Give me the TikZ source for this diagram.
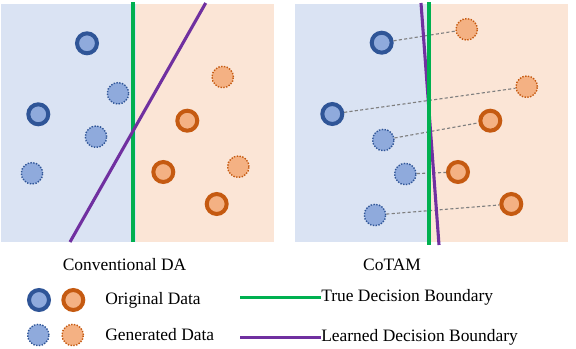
\documentclass[tikz,border=0pt]{standalone}
\usepackage{fontspec}
\setmainfont{Liberation Serif}
\usetikzlibrary{positioning}
\definecolor{PanelBlue}{HTML}{DAE3F3}
\definecolor{PanelOrange}{HTML}{FBE5D6}
\definecolor{DotBlue}{HTML}{8FAADC}
\definecolor{RingBlue}{HTML}{2F5597}
\definecolor{DotOrange}{HTML}{F4B183}
\definecolor{RingOrange}{HTML}{C55A11}
\definecolor{TrueGreen}{HTML}{00B050}
\definecolor{LearnPurple}{HTML}{7030A0}
\definecolor{LinkGray}{HTML}{7F7F7F}
\tikzset{
  origblue/.style={circle, inner sep=0pt, minimum size=14.2pt, line width=2.85pt, draw=RingBlue, fill=DotBlue},
  origorange/.style={origblue, draw=RingOrange, fill=DotOrange},
  genblue/.style={circle, inner sep=0pt, minimum size=15.2pt, line width=1pt, dash pattern=on 1pt off 1pt, draw=RingBlue, fill=DotBlue},
  genorange/.style={genblue, draw=RingOrange, fill=DotOrange},
  boundary/.style={line width=2.2pt},
  link/.style={LinkGray, line width=0.8pt, dash pattern=on 2.2pt off 1.6pt},
}

\begin{document}
\begin{tikzpicture}[x=0.025cm, y=-0.025cm, font=\fontsize{12.4pt}{14pt}\selectfont]
  \useasboundingbox (0,0) rectangle (576,348);
  % conventional DA
  \fill[PanelBlue] (1,4) rectangle (136,242);
  \fill[PanelOrange] (136,4) rectangle (274,242);
  \foreach \x/\y [count=\i] in {87/43.3, 38.3/114.3}
    \node[origblue] (cbo\i) at (\x,\y) {};
  \foreach \x/\y [count=\i] in {118/93.3, 96/136.7, 32/173.3}
    \node[genblue] (cbg\i) at (\x,\y) {};
  \foreach \x/\y [count=\i] in {187.3/120.7, 163.3/172, 216.7/204}
    \node[origorange] (coo\i) at (\x,\y) {};
  \foreach \x/\y [count=\i] in {222.7/77, 238.3/166.7}
    \node[genorange] (cog\i) at (\x,\y) {};
  \draw[boundary, TrueGreen] (133,2.5) -- (133,242);
  \draw[boundary, LearnPurple] (205.7,3) -- (70,242);
  % CoTAM
  \fill[PanelBlue] (295,4) rectangle (428,242);
  \fill[PanelOrange] (428,4) rectangle (568,242);
  \foreach \x/\y [count=\i] in {381.7/42.7, 332.3/114}
    \node[origblue] (tbo\i) at (\x,\y) {};
  \foreach \x/\y [count=\i] in {383.3/140, 405.3/174, 375/215}
    \node[genblue] (tbg\i) at (\x,\y) {};
  \foreach \x/\y [count=\i] in {490.3/120.7, 458/172, 511.3/204}
    \node[origorange] (too\i) at (\x,\y) {};
  \foreach \x/\y [count=\i] in {466.7/29.3, 526.7/86.7}
    \node[genorange] (tog\i) at (\x,\y) {};
  % each sample moved across the boundary
  \draw[link] (tbo1) -- (tog1);
  \draw[link] (tbo2) -- (tog2);
  \draw[link] (tbg1) -- (too1);
  \draw[link] (tbg2) -- (too2);
  \draw[link] (tbg3) -- (too3);
  \draw[boundary, LearnPurple] (421,3) -- (439,245);
  \draw[boundary, TrueGreen] (429,2.5) -- (429,245);
  % captions
  \node (capda) at (124.5,265) {Conventional DA};
  \node (capcotam) at (392,265) {CoTAM};
  % legend
  \node[origblue] (lbo) at (39,300) {};
  \node[origorange] (loo) at (73.3,300) {};
  \node[genblue] (lbg) at (38.3,335) {};
  \node[genorange] (log) at (72.7,335) {};
  \node[anchor=west, inner sep=0pt] (lorig) at (105,300) {Original Data};
  \node[anchor=west, inner sep=0pt] (lgen) at (105,335) {Generated Data};
  \node[anchor=west, inner sep=0pt] (ltrue) at (321,297) {True Decision Boundary};
  \node[anchor=west, inner sep=0pt] (llearn) at (321,337) {Learned Decision Boundary};
  \coordinate (ltruestart) at (240,297.7);
  \coordinate (llearnstart) at (240,337.7);
  \draw[boundary, TrueGreen] (ltruestart) -- (ltruestart -| ltrue.west);
  \draw[boundary, LearnPurple] (llearnstart) -- (llearnstart -| llearn.west);
\end{tikzpicture}
\end{document}
